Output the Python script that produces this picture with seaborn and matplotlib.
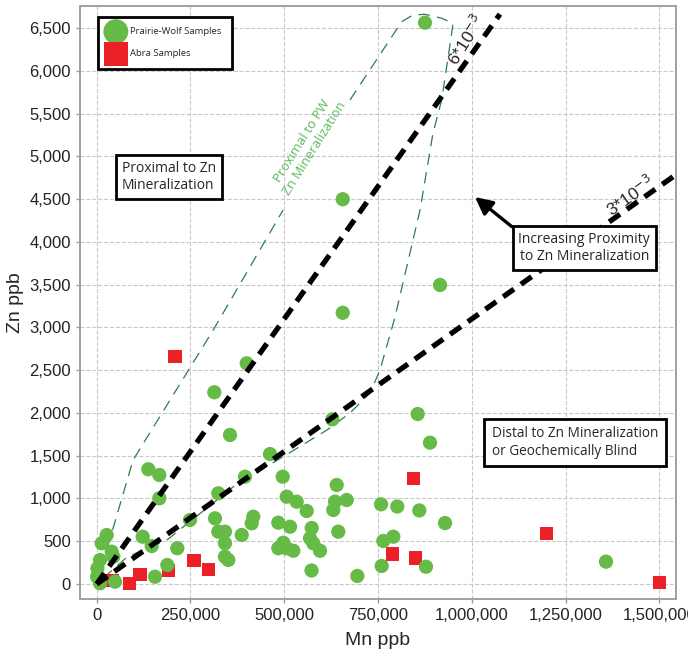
import numpy as np
import pandas as pd
import seaborn as sns
import matplotlib.pyplot as plt
from matplotlib.ticker import FuncFormatter, MultipleLocator

# Prairie-Wolf samples (Mn ppb, Zn ppb)
pw_mn = [875300, 655900, 655900, 915300, 399900, 313500, 355400, 628100, 462000, 395400,
         495900, 137600, 166900, 166900, 324200, 639900, 666500, 506600, 533200, 559900,
         635400, 630800, 855800, 888600, 758000, 801400, 860100, 928600, 248700, 315400,
         417500, 413200, 484100, 515400, 573200, 324200, 342000, 342000, 342000, 350800,
         386600, 644100, 764100, 790800, 497500, 484100, 506600, 524200, 568700, 577500,
         595300, 572700, 694800, 759800, 877900, 1357800, 122600, 146600, 214900, 188200,
         155400, 13300, 26700, 40000, 44300, 8800, 2000, 1000, 8800, 48800]
pw_zn = [6565, 4500, 3172, 3497, 2581, 2242, 1743, 1926, 1520, 1255,
         1255, 1342, 1275, 1002, 1061, 1158, 982, 1021, 963, 854,
         963, 866, 1988, 1653, 932, 906, 860, 713, 749, 768,
         787, 710, 717, 670, 655, 612, 612, 476, 319, 281,
         573, 612, 503, 553, 483, 418, 418, 389, 535, 476,
         389, 158, 94, 211, 202, 261, 553, 444, 418, 222,
         85, 476, 573, 378, 319, 281, 184, 85, 8, 27]

# Abra samples
abra_mn = [208800, 42700, 86900, 115400, 190900, 259400, 297500, 844100, 789200, 849400,
           1199700, 1500000]
abra_zn = [2658, 39, 8, 113, 156, 273, 172, 1234, 351, 304, 593, 20]

# reference ratio lines Zn/Mn
ratio_slopes = [0.0062, 0.0031]
ratio_mn_end = [1075000, 1540000]
ratio_labels = ['6*10$^{-3}$', '3*10$^{-3}$']

# dashed envelope around the proximal PW samples (NaN = gap for the label)
env_mn = [0, 97000, 310600, 496900, np.nan, 675300, 813200, 843300, 875300, 919800,
          950000, 946500, 919800, 896600, 862000, 795300, 755300, 728700, 675400, 614000,
          363500, 187500, 81000, 0]
env_zn = [0, 1450, 2970, 4374, np.nan, 5661, 6577, 6655, 6663, 6617,
          6558, 6445, 5661, 5275, 4374, 3123, 2503, 2234, 2000, 1801,
          1134, 515, 316, 0]

green = '#66bb46'
red = '#ec2027'

sns.set_style('whitegrid', {'grid.linestyle': '--', 'grid.color': '#c8c8c8'})
plt.rcParams['font.family'] = ['Liberation Sans', 'DejaVu Sans']

fig = plt.figure(figsize=(6.88, 6.67), dpi=100)
ax = fig.add_axes([0.1163, 0.1015, 0.8663, 0.8895])

pw = pd.DataFrame({'Mn': pw_mn, 'Zn': pw_zn})
abra = pd.DataFrame({'Mn': abra_mn, 'Zn': abra_zn})

sns.scatterplot(data=abra, x='Mn', y='Zn', marker='s', s=95, color=red, edgecolor='none',
                ax=ax, zorder=3, label='Abra Samples')
sns.scatterplot(data=pw, x='Mn', y='Zn', marker='o', s=105, color=green, edgecolor='none',
                ax=ax, zorder=4, label='Prairie-Wolf Samples')

for slope, xend in zip(ratio_slopes, ratio_mn_end):
    xs = np.array([0, xend])
    ax.plot(xs, slope * xs, color='black', lw=3.8, ls=(0, (2.5, 1.6)),
            dash_capstyle='butt', zorder=5)

ax.plot(env_mn, env_zn, color='#2e7d4a', lw=0.9, ls=(0, (9, 6)), zorder=2)

ax.text(985000, 6363, ratio_labels[0], rotation=58, fontsize=12.5, ha='center', va='center',
        zorder=6)
ax.text(1421600, 4538, ratio_labels[1], rotation=35, fontsize=12.5, ha='center', va='center',
        zorder=6)

ax.text(565000, 5140, 'Proximal to PW\nZn Mineralization', rotation=58, color='#5cb85c',
        fontsize=9.5, family='Open Sans', ha='center', va='center', zorder=6)

box = dict(boxstyle='square,pad=0.4', facecolor='white', edgecolor='black', lw=2)
ax.text(192800, 4760, 'Proximal to Zn\nMineralization', fontsize=10, family='Open Sans',
        ha='center', va='center', multialignment='left', bbox=box, zorder=7)
ax.text(1275200, 1655, 'Distal to Zn Mineralization\nor Geochemically Blind', fontsize=9.8,
        family='Open Sans', ha='center', va='center', multialignment='left',
        bbox=dict(boxstyle='square,pad=0.55', facecolor='white', edgecolor='black', lw=2),
        zorder=7)
ax.annotate('Increasing Proximity\nto Zn Mineralization', xy=(1008500, 4526),
            xytext=(1299700, 3930), fontsize=10, family='Open Sans', ha='center', va='center',
            multialignment='center', bbox=box, zorder=7,
            arrowprops=dict(arrowstyle='-|>', color='black', lw=2.4, mutation_scale=26,
                            shrinkA=0, shrinkB=0, relpos=(0, 1)))

ax.set_xlim(-44500, 1544500)
ax.set_ylim(-179, 6760)
ax.xaxis.set_major_locator(MultipleLocator(250000))
ax.yaxis.set_major_locator(MultipleLocator(500))
fmt = FuncFormatter(lambda v, p: f'{int(v):,}')
ax.xaxis.set_major_formatter(fmt)
ax.yaxis.set_major_formatter(fmt)
ax.tick_params(axis='both', labelsize=12, colors='#222222', length=3, width=1,
               direction='out', left=True, bottom=True)
ax.tick_params(axis='both', color='#999999')
for s in ax.spines.values():
    s.set_color('#a0a0a0')
    s.set_linewidth(1.4)
ax.set_xlabel('Mn ppb', fontsize=14, labelpad=6)
ax.set_ylabel('Zn ppb', fontsize=14, labelpad=4)

handles, labels = ax.get_legend_handles_labels()
leg = ax.legend(handles[::-1], labels[::-1], loc='upper left', bbox_to_anchor=(0.03, 0.982),
                frameon=True, fancybox=False, edgecolor='black', framealpha=1,
                prop={'family': 'Open Sans', 'size': 6.8}, markerscale=1.75,
                borderpad=1.1, labelspacing=1.4, handletextpad=0.7, borderaxespad=0,
                handlelength=1.6)
leg.get_frame().set_linewidth(2)

fig.savefig('out.png', dpi=100)
